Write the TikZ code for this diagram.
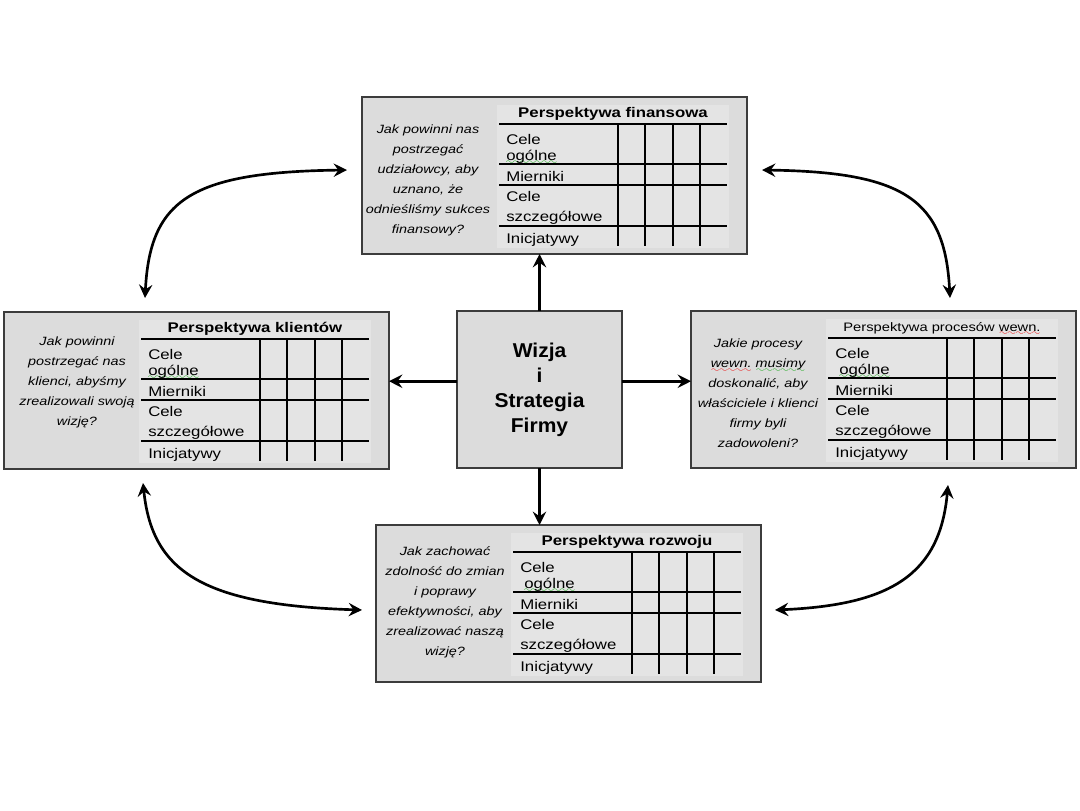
\documentclass[tikz,border=0pt]{standalone}
\usepackage{fontspec}
\setmainfont{Liberation Sans}[FakeStretch=1.2]
\newfontfamily\centerfont{Liberation Sans}[FakeStretch=1.05]
\usetikzlibrary{arrows.meta}
\definecolor{spgreen}{RGB}{30,170,30}
\definecolor{spred}{RGB}{235,20,20}
\definecolor{boxfill}{RGB}{220,220,220}
\definecolor{tablefill}{RGB}{228,228,228}
\definecolor{boxline}{RGB}{60,60,60}
\font\wavefont=lasy7
\newcommand\wavyword[2]{\setbox0\hbox{#2}\rlap{\textcolor{#1}{\lower3.6pt\hbox to \wd0{\xleaders\hbox{\wavefont\char58}\hfil}}}\box0\relax}
\newcommand\gwave[1]{\wavyword{spgreen}{#1}}
\newcommand\rwave[1]{\wavyword{spred}{#1}}
% #1 name, #2 x, #3 y, #4 header, #5 question, #6 qx, #7 qy, #8 indent of "ogolne"
\newcommand\perspective[8]{%
  \node[pbox] (#1) at (#2,#3) {};
  \begin{scope}[shift={(#1.north west)}]
    \fill[tablefill] (135,8) rectangle (367,151);
    \node[hdr] (#1-h) at (251,20) {#4};
    \draw[tline] (137,27) -- (365,27) (137,67) -- (365,67)
                 (137,88) -- (365,88) (137,129) -- (365,129);
    \foreach \vx in {256,283,311,338} \draw[tline] (\vx,27) -- (\vx,149);
    \node[cell] (#1-c1) at (144,47) {Cele};
    \node[cell] (#1-c2) at (144,63) {\hspace*{#8}\gwave{ogólne}};
    \node[cell] (#1-c3) at (144,84) {Mierniki};
    \node[cell] (#1-c4) at (144,104) {Cele};
    \node[cell] (#1-c5) at (144,124) {szczegółowe};
    \node[cell] (#1-c6) at (144,146) {Inicjatywy};
    \node[quest] (#1-q) at (#6,#7) {#5};
  \end{scope}}
\begin{document}
\begin{tikzpicture}[x=0.75pt,y=-0.75pt,
  pbox/.style={draw=boxline,line width=1.1pt,fill=boxfill,minimum width=288.75pt,minimum height=117.75pt,inner sep=0pt,outer sep=0pt,anchor=north west},
  cbox/.style={draw=boxline,line width=1.1pt,fill=boxfill,minimum width=123.75pt,minimum height=117.75pt,inner sep=0pt,outer sep=0pt,align=center,font=\centerfont\bfseries\fontsize{15}{18.75}\selectfont},
  tline/.style={line width=1pt},
  cell/.style={anchor=base west,inner sep=0pt,font=\fontsize{10.5}{12}\selectfont},
  hdr/.style={anchor=base,inner sep=0pt,font=\bfseries\fontsize{10.5}{12}\selectfont},
  quest/.style={align=center,inner sep=0pt,font=\itshape\fontsize{9}{15}\selectfont},
  arr/.style={line width=2pt,-{Stealth[length=10pt,width=10pt,inset=3.5pt]}},
  darr/.style={line width=2pt,{Stealth[length=10pt,width=10pt,inset=3.5pt]}-{Stealth[length=10pt,width=10pt,inset=3.5pt]}}
]
\useasboundingbox[fill=white] (0,0) rectangle (1080,810);

\perspective{fin}{362}{97}{Perspektywa finansowa}%
  {Jak powinni nas\\postrzegać\\udziałowcy, aby\\uznano, że\\odnieśliśmy sukces\\finansowy?}{66}{83}{0pt}
\perspective{kli}{4}{312}{Perspektywa klientów}%
  {Jak powinni\\postrzegać nas\\klienci, abyśmy\\zrealizowali swoją\\wizję?}{73}{70}{0pt}
\perspective{pro}{691}{311}{\mdseries\fontsize{9.2}{11}\selectfont Perspektywa procesów \rwave{wewn.}}%
  {Jakie procesy\\\rwave{wewn.} \gwave{musimy}\\doskonalić, aby\\właściciele i klienci\\firmy byli\\zadowoleni?}{67}{82}{3pt}
\perspective{roz}{376}{525}{Perspektywa rozwoju}%
  {\fontsize{9}{13.8}\selectfont Jak zachować\\zdolność do zmian\\i poprawy\\efektywności, aby\\zrealizować naszą\\wizję?}{69}{77}{3pt}

\node[cbox] (mid) at (539.5,389.5) {Wizja\\\gwave{i}\\Strategia\\Firmy};

\coordinate (mw) at ([yshift=6.2pt]mid.west);
\coordinate (me) at ([yshift=6.2pt]mid.east);
\draw[arr] (mid.north) -- (mid.north |- fin.south);
\draw[arr] (mid.south) -- (mid.south |- roz.north);
\draw[arr] (mw) -- (mw -| kli.east);
\draw[arr] (me) -- (me -| pro.west);

\coordinate (tl1) at (145,298);
\coordinate (tl2) at (347,170);
\coordinate (tr1) at (762,170);
\coordinate (tr2) at (950,298);
\coordinate (bl1) at (143,483);
\coordinate (bl2) at (362,610);
\coordinate (br1) at (775,610);
\coordinate (br2) at (948,485);
\draw[darr] (tl1) .. controls (150,200) and (190,172) .. (tl2);
\draw[darr] (tr1) .. controls (905,172) and (945,200) .. (tr2);
\draw[darr] (bl1) .. controls (152,570) and (200,605) .. (bl2);
\draw[darr] (br1) .. controls (890,605) and (940,575) .. (br2);
\end{tikzpicture}
\end{document}
